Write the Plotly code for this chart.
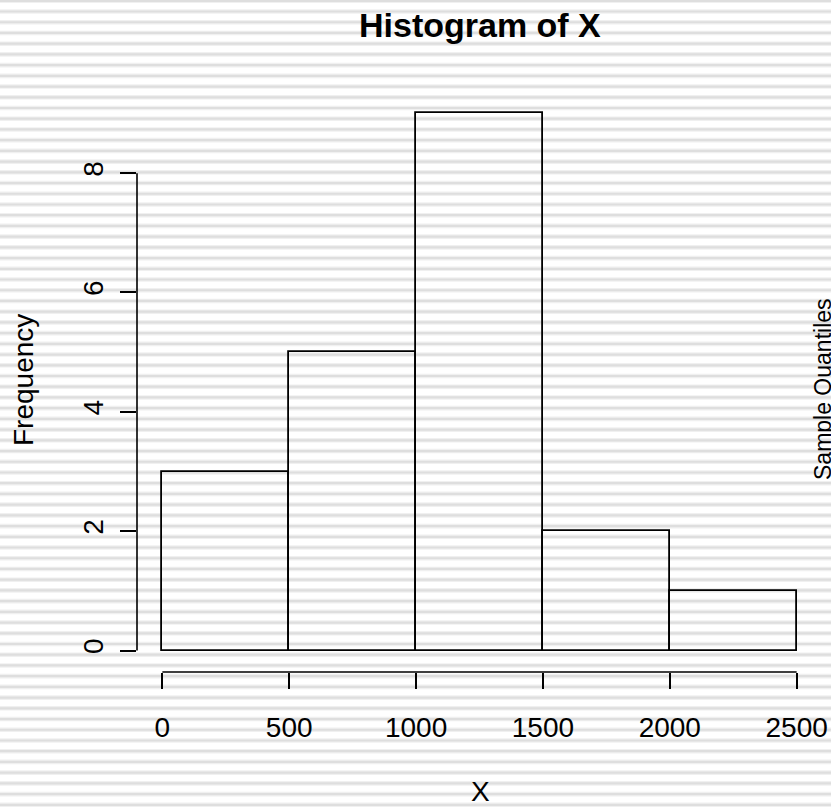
import plotly.graph_objects as go

# ---- data ----
breaks = [0, 500, 1000, 1500, 2000, 2500]
counts = [3, 5, 9, 2, 1]
x_ticks = [0, 500, 1000, 1500, 2000, 2500]
y_ticks = [0, 2, 4, 6, 8]
title_text = "Histogram of X"
x_title = "X"
y_title = "Frequency"
stray_text = "Sample Quantiles"

W, H = 831, 811
L, R, T, B = 137, 9, 92, 139
PW, PH = W - L - R, H - T - B

def pxx(p):
    return (p - L) / PW

def pxy(p):
    return (H - B - p) / PH

mids = [(a + b) / 2 for a, b in zip(breaks[:-1], breaks[1:])]
widths = [b - a for a, b in zip(breaks[:-1], breaks[1:])]

fig = go.Figure()
fig.add_trace(go.Bar(
    x=mids, y=counts, width=widths,
    marker=dict(color="rgba(0,0,0,0)", line=dict(color="black", width=1.8)),
    hoverinfo="skip", showlegend=False,
))

FONT = "Liberation Sans, Arial, Helvetica, sans-serif"

shapes = []
# striped page background
period = 10.72
y = 0.8
while y < H + period:
    shapes.append(dict(type="rect", xref="paper", yref="paper",
                       x0=pxx(0), x1=pxx(W), y0=pxy(min(y + 2.3, H)), y1=pxy(max(y - 2.3, 0)),
                       fillcolor="#f0f0f0", line=dict(width=0), layer="below"))
    shapes.append(dict(type="rect", xref="paper", yref="paper",
                       x0=pxx(0), x1=pxx(W), y0=pxy(min(y + 1.1, H)), y1=pxy(max(y - 1.1, 0)),
                       fillcolor="#dedede", line=dict(width=0), layer="below"))
    y += period

# R-style axis lines spanning the tick range only
shapes.append(dict(type="line", xref="x", yref="paper",
                   x0=x_ticks[0], x1=x_ticks[-1], y0=0, y1=0,
                   line=dict(color="black", width=1.6)))
shapes.append(dict(type="line", xref="paper", yref="y",
                   x0=0, x1=0, y0=y_ticks[0], y1=y_ticks[-1],
                   line=dict(color="black", width=1.6)))

annotations = [
    dict(text="<b>" + title_text + "</b>", xref="paper", yref="paper",
         x=pxx(480), y=pxy(25), xanchor="center", yanchor="middle",
         showarrow=False, font=dict(family=FONT, size=34, color="black")),
    dict(text=x_title, xref="paper", yref="paper",
         x=pxx(480), y=pxy(791), xanchor="center", yanchor="middle",
         showarrow=False, font=dict(family=FONT, size=28, color="black")),
    dict(text=y_title, xref="paper", yref="paper", textangle=-90,
         x=pxx(23), y=pxy(380), xanchor="center", yanchor="middle",
         showarrow=False, font=dict(family=FONT, size=28, color="black")),
    dict(text=stray_text, xref="paper", yref="paper", textangle=-90,
         x=pxx(808), y=pxy(389), xanchor="left", yanchor="middle",
         showarrow=False, font=dict(family=FONT, size=23, color="black")),
]

fig.update_layout(
    width=W, height=H,
    margin=dict(l=L, r=R, t=T, b=B, pad=0, autoexpand=False),
    paper_bgcolor="white", plot_bgcolor="rgba(0,0,0,0)",
    shapes=shapes, annotations=annotations,
    bargap=0, showlegend=False,
    font=dict(family=FONT, size=28, color="black"),
    xaxis=dict(range=[-100, 2600], showgrid=False, zeroline=False, showline=False,
               automargin=False,
               ticks="outside", ticklen=16, tickwidth=1.6, tickcolor="black",
               tickmode="array", tickvals=x_ticks, ticktext=[str(v) for v in x_ticks],
               tickfont=dict(family=FONT, size=28, color="black"),
               ticklabelstandoff=14, fixedrange=True),
    yaxis=dict(range=[-0.36, 9.36], showgrid=False, zeroline=False, showline=False,
               automargin=False,
               ticks="outside", ticklen=16, tickwidth=1.6, tickcolor="black",
               tickmode="array", tickvals=y_ticks, ticktext=[str(v) for v in y_ticks],
               tickangle=-90, tickfont=dict(family=FONT, size=28, color="black"),
               ticklabelstandoff=6, fixedrange=True),
)

fig.write_html(
    "out.html",
    config={"displayModeBar": False},
    post_script=(
        "document.body.style.margin='0';"
        "document.body.style.overflow='hidden';"
        "document.documentElement.style.overflow='hidden';"
    ),
)
